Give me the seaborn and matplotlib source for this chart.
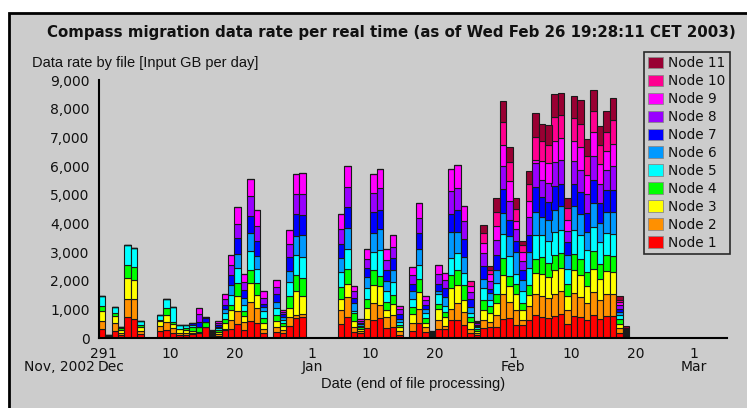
import numpy as np
import pandas as pd
import matplotlib
matplotlib.use("Agg")
import matplotlib.pyplot as plt
import seaborn as sns
from matplotlib.patches import Patch, Rectangle
from matplotlib.ticker import FuncFormatter

# ---------------- data ----------------
start_date = "2002-11-29"   # first bar (day index 0)
node_names = [f"Node {i}" for i in range(1, 12)]
node_colors = ["#ff0000", "#ff9000", "#ffff00", "#00ff00", "#00ffff", "#0099ff",
               "#0000ff", "#9900ff", "#ff00ff", "#ff0090", "#990033"]

# daily input GB per node, Nov 29 2002 .. Feb 18 2003 (rows of 10 days)
node1 = [330, 20, 260, 105, 720, 680, 150, 0, 0, 260,
         295, 190, 95, 95, 130, 185, 385, 40, 80, 270,
         325, 500, 270, 605, 525, 185, 0, 200, 165, 430,
         700, 735, 0, 0, 0, 0, 0, 500, 720, 210,
         180, 360, 640, 700, 360, 385, 115, 0, 255, 525,
         210, 40, 325, 300, 640, 630, 440, 175, 100, 350,
         385, 385, 675, 700, 440, 440, 640, 790, 730, 700,
         755, 825, 500, 755, 730, 615, 790, 675, 755, 755,
         175, 40]
node2 = [270, 20, 250, 80, 650, 670, 95, 0, 0, 165,
         250, 175, 95, 75, 60, 20, 0, 30, 60, 60,
         315, 430, 290, 640, 510, 130, 0, 185, 105, 300,
         105, 95, 0, 0, 0, 0, 0, 490, 710, 175,
         60, 290, 595, 440, 370, 420, 130, 0, 280, 500,
         175, 30, 315, 105, 385, 595, 465, 150, 80, 265,
         175, 430, 870, 545, 545, 175, 465, 755, 720, 700,
         790, 800, 490, 815, 700, 605, 815, 640, 770, 790,
         185, 30]
node3 = [340, 20, 270, 105, 720, 660, 140, 0, 0, 175,
         260, 140, 140, 110, 60, 20, 0, 30, 70, 200,
         325, 545, 210, 675, 475, 210, 0, 200, 150, 315,
         850, 650, 0, 0, 0, 0, 0, 370, 455, 200,
         70, 405, 630, 685, 235, 370, 140, 0, 290, 595,
         130, 30, 360, 325, 735, 615, 430, 230, 80, 370,
         315, 405, 665, 560, 560, 350, 405, 720, 790, 730,
         815, 815, 490, 815, 755, 580, 815, 755, 800, 755,
         115, 30]
node4 = [165, 20, 100, 60, 470, 470, 70, 0, 0, 25,
         250, 60, 0, 80, 150, 150, 175, 30, 60, 150,
         175, 440, 165, 465, 405, 175, 0, 210, 105, 430,
         560, 615, 0, 0, 0, 0, 0, 420, 535, 270,
         60, 300, 490, 325, 290, 340, 80, 0, 255, 440,
         190, 30, 175, 175, 430, 545, 500, 175, 60, 350,
         235, 315, 595, 350, 325, 255, 350, 500, 580, 490,
         545, 525, 420, 560, 580, 500, 615, 525, 580, 560,
         200, 40]
node5 = [355, 10, 200, 50, 690, 670, 150, 0, 0, 165,
         320, 505, 140, 110, 50, 0, 0, 30, 70, 200,
         370, 525, 220, 665, 500, 235, 0, 255, 95, 475,
         675, 735, 0, 0, 0, 0, 0, 525, 685, 100,
         50, 395, 650, 930, 395, 440, 95, 0, 290, 490,
         170, 30, 370, 220, 615, 595, 420, 140, 50, 405,
         210, 385, 815, 700, 370, 420, 580, 815, 780, 765,
         790, 815, 500, 815, 815, 755, 835, 755, 755, 780,
         115, 50]
node6 = [0, 0, 0, 0, 0, 0, 0, 0, 0, 0,
         0, 0, 0, 0, 0, 0, 0, 30, 60, 140,
         350, 500, 245, 605, 455, 130, 0, 210, 115, 395,
         685, 755, 0, 0, 0, 0, 0, 490, 745, 255,
         60, 370, 675, 710, 325, 420, 120, 0, 270, 545,
         130, 20, 80, 315, 895, 720, 580, 210, 50, 325,
         235, 465, 745, 700, 755, 370, 560, 815, 615, 720,
         780, 815, 510, 835, 755, 640, 835, 665, 735, 755,
         115, 30]
node7 = [0, 0, 0, 0, 0, 0, 0, 0, 0, 0,
         0, 0, 0, 0, 90, 185, 135, 25, 70, 140,
         325, 560, 290, 615, 500, 115, 0, 265, 95, 490,
         755, 720, 0, 0, 0, 0, 0, 490, 720, 185,
         60, 335, 700, 685, 385, 405, 170, 0, 255, 560,
         150, 20, 270, 315, 640, 780, 630, 290, 50, 430,
         165, 500, 825, 560, 405, 350, 605, 870, 700, 640,
         825, 790, 440, 790, 755, 665, 790, 700, 755, 780,
         115, 30]
node8 = [0, 0, 0, 0, 0, 0, 0, 0, 0, 0,
         0, 0, 0, 0, 0, 290, 40, 25, 60, 185,
         350, 490, 270, 675, 545, 200, 0, 245, 80, 440,
         685, 735, 0, 0, 0, 0, 0, 500, 710, 245,
         50, 300, 665, 755, 370, 405, 170, 0, 290, 545,
         160, 15, 325, 255, 780, 770, 605, 230, 50, 465,
         270, 545, 815, 665, 405, 315, 615, 835, 580, 675,
         835, 815, 385, 790, 780, 675, 870, 650, 700, 815,
         115, 30]
node9 = [0, 0, 0, 0, 0, 0, 0, 0, 0, 0,
         0, 0, 0, 0, 0, 200, 0, 30, 70, 175,
         370, 590, 280, 615, 560, 245, 0, 265, 70, 490,
         720, 700, 0, 0, 0, 0, 0, 525, 735, 175,
         60, 335, 675, 675, 385, 405, 95, 0, 290, 525,
         150, 15, 335, 255, 790, 800, 535, 230, 40, 350,
         235, 465, 745, 700, 290, 325, 545, 115, 675, 685,
         720, 780, 395, 700, 790, 665, 815, 720, 665, 790,
         115, 30]
node10 = [0, 0, 0, 0, 0, 0, 0, 0, 0, 0,
          0, 0, 0, 0, 0, 0, 0, 0, 0, 0,
          0, 0, 0, 0, 0, 0, 0, 0, 0, 0,
          0, 0, 0, 0, 0, 0, 0, 0, 0, 0,
          0, 0, 0, 0, 0, 0, 0, 0, 0, 0,
          0, 0, 0, 0, 0, 0, 0, 165, 35, 350,
          150, 490, 770, 675, 405, 230, 605, 790, 685, 615,
          850, 790, 420, 800, 815, 640, 730, 640, 675, 815,
          80, 30]
node11 = [0, 0, 0, 0, 0, 0, 0, 0, 0, 0,
          0, 0, 0, 0, 0, 0, 0, 0, 0, 0,
          0, 0, 0, 0, 0, 0, 0, 0, 0, 0,
          0, 0, 0, 0, 0, 0, 0, 0, 0, 0,
          0, 0, 0, 0, 0, 0, 0, 0, 0, 0,
          0, 0, 0, 0, 0, 0, 0, 0, 0, 290,
          130, 500, 745, 510, 385, 140, 465, 835, 615, 720,
          815, 790, 350, 755, 815, 595, 745, 665, 735, 790,
          140, 70]

tick_dates = ["2002-11-29", "2002-12-01", "2002-12-10", "2002-12-20",
              "2003-01-01", "2003-01-10", "2003-01-20",
              "2003-02-01", "2003-02-10", "2003-02-20", "2003-03-01"]
tick_labels = ["29", "1", "10", "20", "1", "10", "20", "1", "10", "20", "1"]
month_dates = ["2002-12-01", "2003-01-01", "2003-02-01", "2003-03-01"]
month_labels = ["Dec", "Jan", "Feb", "Mar"]
first_month_label = "Nov, 2002"
y_ticks = [0, 1000, 2000, 3000, 4000, 5000, 6000, 7000, 8000, 9000]

title = "Compass migration data rate per real time (as of Wed Feb 26 19:28:11 CET 2003)"
y_label = "Data rate by file [Input GB per day]"
x_label = "Date (end of file processing)"

# ---------------- build table ----------------
series = [node1, node2, node3, node4, node5, node6, node7, node8, node9, node10, node11]
start = pd.Timestamp(start_date)
n_days = len(node1)
rows = []
for name, vals in zip(node_names, series):
    for d, v in enumerate(vals):
        rows.append((d + 0.5, name, float(v)))
df = pd.DataFrame(rows, columns=["day", "node", "rate"])


def day_of(s):
    return (pd.Timestamp(s) - start).days


# ---------------- style ----------------
BG = "#cccccc"
W, H = 747, 408
sns.set_theme(style="white")
plt.rcParams["font.family"] = ["DejaVu Sans"]

fig = plt.figure(figsize=(W / 100, H / 100), dpi=100, facecolor="white")
fig.patches.append(Rectangle((9 / W, -0.05), 1.2, 1 - 13 / H + 0.05,
                             transform=fig.transFigure, facecolor=BG,
                             edgecolor="black", linewidth=2, zorder=-10))

ax_left, ax_right, ax_bottom, ax_top = 98.6, 727, 338, 80
ax = fig.add_axes([ax_left / W, 1 - ax_bottom / H, (ax_right - ax_left) / W,
                   (ax_bottom - ax_top) / H])
ax.set_facecolor("none")

rev_names = node_names[::-1]
rev_colors = node_colors[::-1]
sns.histplot(data=df, x="day", weights="rate", hue="node", hue_order=rev_names,
             palette=rev_colors, multiple="stack", binwidth=1,
             binrange=(0, n_days), element="bars", fill=True, alpha=1,
             shrink=1, edgecolor="#1a1a1a", linewidth=0.8, legend=False, ax=ax)

ax.set_xlim(0, (ax_right - ax_left) / 6.47)
ax.set_ylim(0, 9000)
ax.set_xticks([day_of(s) for s in tick_dates], tick_labels)
ax.set_yticks(y_ticks)
ax.yaxis.set_major_formatter(FuncFormatter(lambda v, p: f"{int(v):,}"))
ax.tick_params(axis="both", direction="inout", length=9, width=1.2,
               color="black", labelsize=10, labelcolor="#111111", pad=2)
ax.set_xlabel("")
ax.set_ylabel("")
for s in ["top", "right"]:
    ax.spines[s].set_visible(False)
for s in ["left", "bottom"]:
    ax.spines[s].set_color("black")
    ax.spines[s].set_linewidth(1.5)

xt = ax.get_xaxis_transform()
y_month = -(367 - ax_bottom) / (ax_bottom - ax_top)
for d, lab in zip(month_dates, month_labels):
    ax.text(day_of(d), y_month, lab, transform=xt, ha="center", va="center",
            fontsize=10, color="#111111", clip_on=False)
ax.text(-0.5, y_month, first_month_label, transform=xt, ha="right", va="center",
        fontsize=10, color="#111111", clip_on=False)

fig.text(391 / W, 1 - 33 / H, title, ha="center", va="center", fontsize=10.8,
         fontweight="bold", color="#111111")
fig.text(32 / W, 1 - 63 / H, y_label, ha="left", va="center", fontsize=10.5,
         family="Liberation Sans", color="#111111")
fig.text((ax_left + ax_right) / 2 / W, 1 - 384 / H, x_label, ha="center",
         va="center", fontsize=10.5, family="Liberation Sans", color="#111111")

handles = [Patch(facecolor=c, edgecolor="#888888", linewidth=0.6, label=n)
           for n, c in zip(rev_names, rev_colors)]
leg = fig.legend(handles=handles, loc="upper left",
                 bbox_to_anchor=(644 / W, 1 - 52 / H), frameon=True,
                 fancybox=False, fontsize=9.8, handlelength=1.1,
                 handleheight=0.9, handletextpad=0.4, labelspacing=0.29,
                 borderpad=0.3, borderaxespad=0)
leg.get_frame().set_facecolor(BG)
leg.get_frame().set_edgecolor("black")
leg.get_frame().set_linewidth(1.2)
for t in leg.get_texts():
    t.set_color("#111111")

fig.savefig("out.png", dpi=100, facecolor="white")
